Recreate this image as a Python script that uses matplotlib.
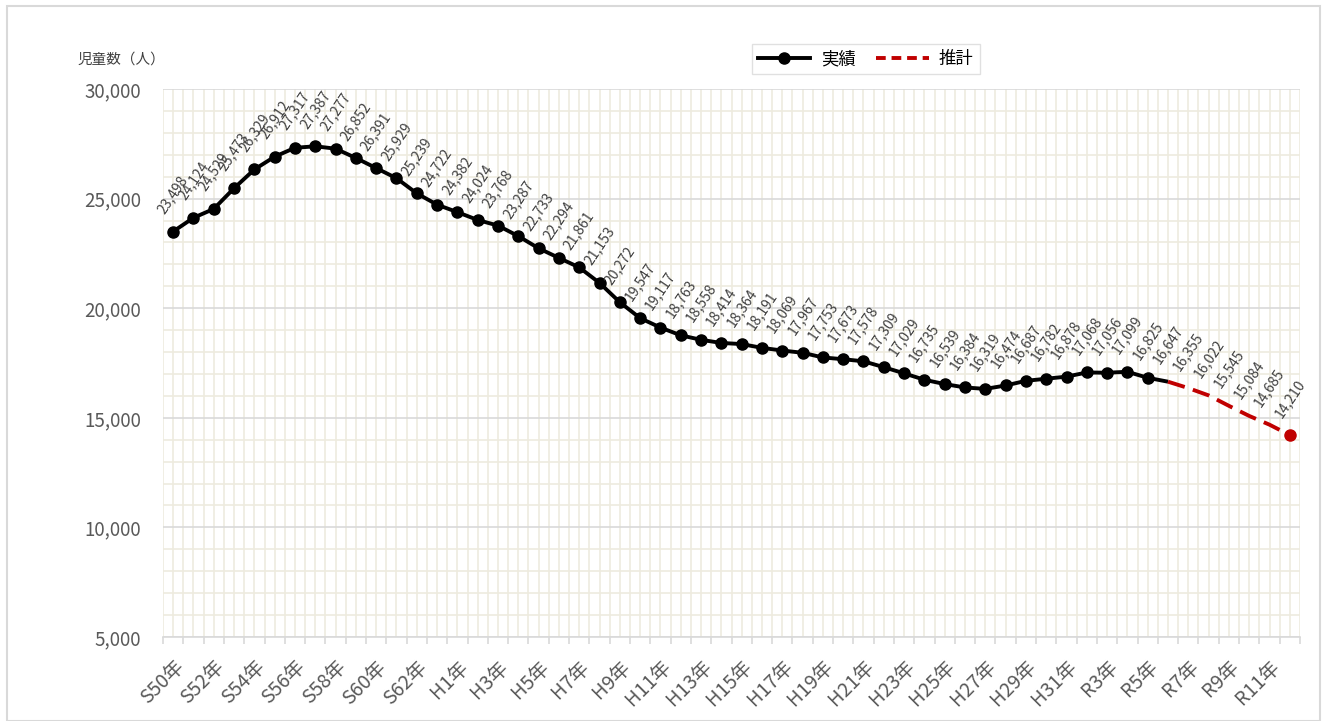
import numpy as np
import matplotlib.pyplot as plt
from matplotlib.patches import Rectangle

plt.rcParams['font.family'] = ['Noto Sans CJK JP', 'DejaVu Sans']

# categories: S50..S63, H1..H31, R2..R12
years = (["S%d年" % i for i in range(50, 64)]
         + ["H%d年" % i for i in range(1, 32)]
         + ["R%d年" % i for i in range(2, 13)])

values = [23498, 24124, 24529, 25473, 26329, 26912, 27317, 27387, 27277, 26852,
          26391, 25929, 25239, 24722, 24382, 24024, 23768, 23287, 22733, 22294,
          21861, 21153, 20272, 19547, 19117, 18763, 18558, 18414, 18364, 18191,
          18069, 17967, 17753, 17673, 17578, 17309, 17029, 16735, 16539, 16384,
          16319, 16474, 16687, 16782, 16878, 17068, 17056, 17099, 16825, 16647,
          16355, 16022, 15545, 15084, 14685, 14210]

n_actual = 50          # 実績: S50..R5 (+ R6 start of line)
actual_label = "実績"
forecast_label = "推計"

fig = plt.figure(figsize=(13.29, 7.21), dpi=100)
ax = fig.add_axes([163 / 1329, 1 - 637 / 721, (1300 - 163) / 1329, (637 - 89) / 721])

x = np.arange(len(values))

# 実績
ax.plot(x[:n_actual], values[:n_actual], color='black', lw=2.8,
        marker='o', ms=8, markevery=list(range(n_actual - 1)),
        solid_capstyle='butt', zorder=3, label=actual_label)
# 推計
ax.plot(x[n_actual - 1:], values[n_actual - 1:], color='#C00000', lw=2.8,
        dashes=(4.5, 2.2), zorder=3, label=forecast_label)
ax.plot(x[-1], values[-1], 'o', color='#C00000', ms=8, zorder=4)

for xi, v in zip(x, values):
    ax.annotate(f"{v:,}", (xi, v), xytext=(0, 11), textcoords='offset points',
                ha='center', va='bottom', rotation=56, fontsize=10,
                color='#404040')

ax.set_xlim(-0.5, len(values) - 0.5)
ax.set_ylim(5000, 30000)

ax.set_xticks(np.arange(-0.5, len(values), 1))
ax.set_xticklabels([])
ax.set_xticks(x, minor=True)
ax.set_xticklabels([y if i % 2 == 0 else "" for i, y in enumerate(years)],
                   minor=True, rotation=45, ha='right', rotation_mode='anchor',
                   fontsize=14, color='#595959')
ax.tick_params(axis='x', which='major', length=5, color='#D9D9D9', width=1.2)
ax.tick_params(axis='x', which='minor', length=0, pad=14)

ax.set_yticks(np.arange(5000, 30001, 5000))
ax.set_yticklabels([f"{v:,}" for v in range(5000, 30001, 5000)],
                   fontsize=13.5, color='#595959')
ax.set_yticks(np.arange(5000, 30001, 1000), minor=True)
ax.tick_params(axis='y', which='both', length=0, pad=16)

ax.grid(True, axis='x', which='both', color='#EEEBDF', lw=1.2, zorder=0)
ax.grid(True, axis='y', which='minor', color='#EEEBDF', lw=1.2, zorder=0)
ax.grid(True, axis='y', which='major', color='#D9D9D9', lw=1.2, zorder=1)
ax.set_axisbelow(True)

for s in ['top', 'left', 'right']:
    ax.spines[s].set_visible(False)
ax.spines['bottom'].set_color('#D9D9D9')
ax.spines['bottom'].set_linewidth(1.2)

fig.text(78 / 1329, 1 - 60 / 721, "児童数（人）", fontsize=10.5, color='#404040',
         ha='left', va='center')

h1, = ax.plot([], [], color='black', lw=2.8, marker='o', ms=8)
h2, = ax.plot([], [], color='#C00000', lw=2.8, dashes=(2.5, 1.5))
leg = fig.legend([h1, h2], [actual_label, forecast_label], loc='center',
                 bbox_to_anchor=(866 / 1329, 1 - 59 / 721), ncol=2,
                 fontsize=12.5, frameon=True, fancybox=False, handlelength=3,
                 columnspacing=1.2, handletextpad=0.6, borderpad=0.35)
leg.get_frame().set_edgecolor('#D9D9D9')
leg.get_frame().set_linewidth(1.0)

fig.patches.append(Rectangle((7 / 1329, 0), (1320 - 7) / 1329, 1 - 6 / 721,
                             transform=fig.transFigure, fill=False,
                             edgecolor='#D9D9D9', lw=1.5))

fig.savefig("out.png", dpi=100)
